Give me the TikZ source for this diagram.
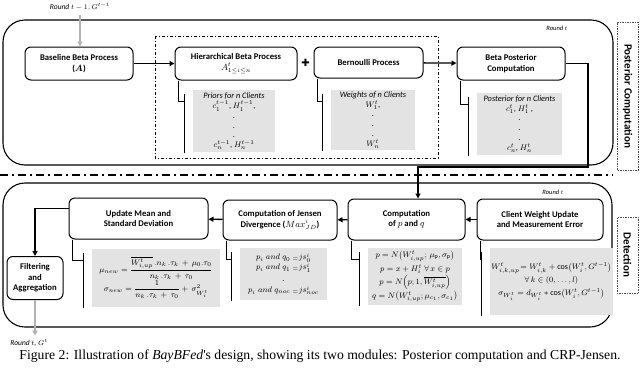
\documentclass[tikz,border=0pt]{standalone}
\usepackage{amsmath}
\usepackage{fontspec}
\setmainfont{Carlito}
\newfontfamily\capfont{Liberation Serif}
\newfontfamily\symfont{DejaVu Sans}
\usetikzlibrary{arrows.meta, positioning, calc}

\begin{document}
\begin{tikzpicture}[
    x=1pt,
    y=-1pt,
    font=\fontsize{8.5}{10}\selectfont,
    >={Triangle[length=5pt,width=5pt]},
    line width=1pt,
    proc/.style={
        draw,
        rounded corners=6pt,
        minimum height=33pt,
        inner sep=1pt,
        align=center,
        font=\fontsize{8.7}{10.5}\selectfont\bfseries
    },
    note/.style={
        fill=gray!22,
        inner sep=1pt,
        align=center,
        font=\fontsize{8.3}{9.8}\selectfont
    },
    frame/.style={draw, rounded corners=22pt, line width=1.1pt},
    sidebox/.style={
        draw=gray!60!black,
        dash pattern=on 1.5pt off 1pt,
        line width=0.6pt,
        minimum height=21pt,
        inner sep=0pt,
        font=\fontsize{11}{11}\selectfont\bfseries
    },
    rlab/.style={font=\fontsize{6.5}{7}\selectfont\itshape},
    arr/.style={->, line width=1.3pt},
    garr/.style={->, draw=gray!60, line width=1.5pt},
    brk/.style={line width=1pt}
]
\useasboundingbox (0,0) rectangle (640,367);

% Posterior computation frame
\draw[frame] (3,20) rectangle (613,165);
\draw[dash pattern=on 3pt off 2pt on 1pt off 2pt, line width=1pt] (155,36) rectangle (438,158);
\node[rlab] (rt1) at (557,28) {Round $t$};
\node[rlab, font=\fontsize{7.5}{8}\selectfont\itshape] (rprev) at (80,7) {Round $t-1, G^{t-1}$};

\node[proc, minimum width=108pt] (base) at (79,63.5) {Baseline Beta Process\\($\boldsymbol{A}$)};
\node[proc, minimum width=122pt] (hier) at (236,63.5) {Hierarchical Beta Process\\$A^t_{1\le i\le n}$};
\node[font=\symfont\fontsize{10}{10}\selectfont] (plus) at (305.5,63) {✚};
\node[proc, minimum width=109pt, minimum height=31pt] (bern) at (368.5,62.5) {Bernoulli Process};
\node[proc, minimum width=108pt] (post) at (511,63.5) {Beta Posterior\\Computation};

\node[note, minimum width=82pt, minimum height=62pt] (priors) at (234,121) {
    \textit{Priors for n Clients}\\
    $c_1^{t-1}$, $H_1^{t-1}$,\\
    .\\ .\\ .\\
    $c_n^{t-1}$, $H_n^{t-1}$
};
\node[note, minimum width=84pt, minimum height=60pt] (weights) at (373,120) {
    \textit{Weights of n Clients}\\
    $W_1^t$,\\
    .\\ .\\ .\\
    $W_n^t$
};
\node[note, minimum width=85pt, minimum height=62pt] (postr) at (519.5,124) {
    \textit{Posterior for n Clients}\\
    $c_1^t$, $H_1^t$ ,\\
    .\\ .\\ .\\
    $c_n^t$, $H_n^t$
};

\draw[arr] (base) -- (hier);
\draw[arr] (bern) -- (post);

% Separator
\draw[dash pattern=on 8pt off 4pt on 2pt off 4pt, line width=2pt] (0,175) -- (613,175);

% Detection frame
\draw[frame] (3,183) rectangle (612,327);
\node[rlab] (rt2) at (553,192) {Round $t$};

\node[proc, minimum width=126pt, minimum height=41pt] (cwu) at (540,219.5) {Client Weight Update\\and Measurement Error};
\node[proc, minimum width=117pt, minimum height=41pt] (cpq) at (406.5,219.5) {Computation\\of $p$ and $q$};
\node[proc, minimum width=114pt, minimum height=40pt] (cjd) at (280,220) {Computation of Jensen\\Divergence ($Max^i_{JD}$)};
\node[proc, minimum width=139pt, minimum height=41pt] (upd) at (138.5,218.5) {Update Mean and\\Standard Deviation};
\node[proc, minimum width=56pt, minimum height=43pt] (filt) at (35,278) {Filtering\\and\\Aggregation};
\node[rlab, font=\fontsize{7.5}{8}\selectfont\itshape] (rnext) at (29,343) {Round $t$, $G^t$};

\node[note, minimum width=111pt, minimum height=67pt, font=\fontsize{8}{13}\selectfont] (cweq) at (551.5,281.5) {
    $W_{i,k,up}^t\!=W_{i,k}^t+\cos\!\big(W_i^t,G^{t-1}\big)$\\
    $\forall\, k\in(0,\dots,l)$\\
    $\sigma_{W_i^t}=d_{W_i^t}*\cos\!\big(W_i^t,G^{t-1}\big)$
};
\node[note, minimum width=94pt, minimum height=57pt, font=\fontsize{8}{13.5}\selectfont] (pqeq) at (415,276.5) {
    $p=N\big(W_{i,up}^t;\,\mu_{\mathrm{p}},\sigma_{\mathrm{p}}\big)$\\
    $p=x+H_i^t\;\forall\,x\in p$\\
    $p=N\Big(p;1,\overline{W_{i,up}^t}\Big)$\\
    $q=N\big(W_{i,up}^t;\mu_{c_1},\sigma_{c_1}\big)$
};
\node[note, minimum width=87pt, minimum height=52pt, font=\fontsize{8.3}{10}\selectfont] (jsd) at (283.5,274) {
    $p_i\;and\;q_0\;{}_{=}js_0^i$\\
    $p_i\;and\;q_1\;{}_{=}js_1^i$\\[2pt]
    .\\[1pt]
    $p_i\;and\;q_{noc}\;{}_{=}js_{noc}^i$
};
\node[note, minimum width=128pt, minimum height=58pt, font=\fontsize{8.3}{10}\selectfont] (updeq) at (156,278) {
    $\mu_{new}=\dfrac{\overline{W_{i,up}^t}\,.n_k\,.\tau_k\,+\,\mu_0.\tau_0}{n_k\,.\tau_k\,+\,\tau_0}$\\
    $\sigma_{new}=\dfrac{1}{n_k\,.\tau_k\,+\,\tau_0}+\,\sigma_{W_i^t}^2$
};

\draw[arr] (cwu) -- (cpq);
\draw[arr] (cpq) -- (cjd);
\draw[arr] (cjd) -- (upd);
\draw[arr] ([yshift=10pt]upd.west) -| (filt.north);

% Bracket links from boxes to their notes
\foreach \b/\g in {hier/priors, bern/weights, post/postr, upd/updeq, cjd/jsd, cpq/pqeq, cwu/cweq} {
    \draw[brk] ([xshift=4pt]\b.south west) |- ([xshift=-8pt,yshift=-12pt]\g.north west);
    \draw[brk] ([xshift=-8pt,yshift=-4pt]\g.north west) -- ([xshift=-8pt]\g.south west);
}

% Round links
\coordinate (bend) at (588,167);
\draw[arr] (post.east) -| (bend) -| ([xshift=11.5pt]cpq.north);
\draw[garr] (rprev.south) -- (rprev.south |- base.north);
\draw[garr] (filt.south) -- (filt.south |- rnext.north);

% Module labels
\node[sidebox, rotate=-90, minimum width=148pt] (sidepc) at (627.5,96) {Posterior Computation};
\node[sidebox, rotate=-90, minimum width=76pt] (sidedet) at (627.5,255) {Detection};

\node[font=\capfont\fontsize{13.7}{14}\selectfont] (cap) at (320,356) {Figure 2: Illustration of \textit{BayBFed}'s design, showing its two modules: Posterior computation and CRP-Jensen.};

\end{tikzpicture}
\end{document}
